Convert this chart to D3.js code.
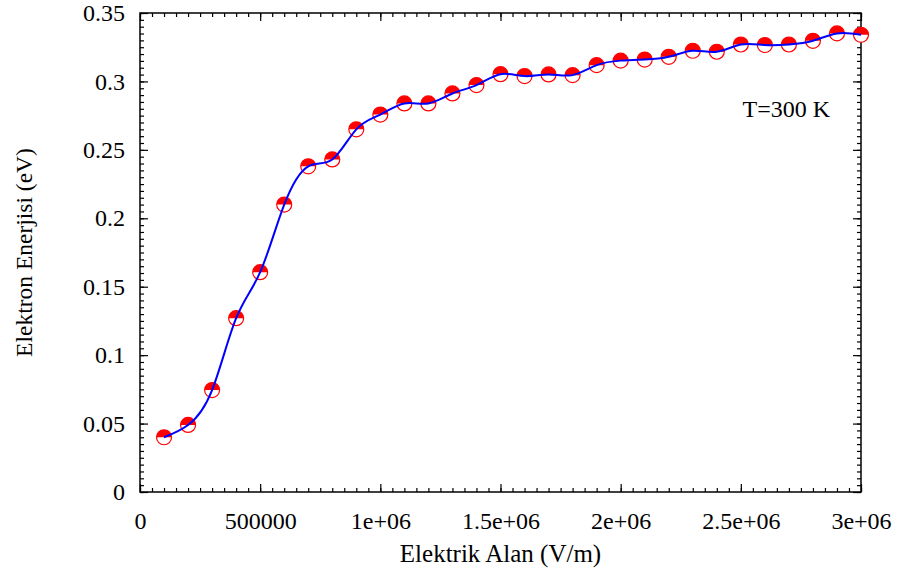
<!DOCTYPE html>
<html>
<head>
<meta charset="utf-8">
<script src="https://cdn.jsdelivr.net/npm/d3@7"></script>
<style>
  body { margin: 0; background: #fff; }
  text { font-family: "Liberation Serif", "Times New Roman", serif; }
</style>
</head>
<body>
<div id="chart"></div>
<script>
// field values (V/m) and electron energy (eV)
var field = [100000, 200000, 300000, 400000, 500000, 600000, 700000, 800000, 900000, 1000000,
             1100000, 1200000, 1300000, 1400000, 1500000, 1600000, 1700000, 1800000, 1900000, 2000000,
             2100000, 2200000, 2300000, 2400000, 2500000, 2600000, 2700000, 2800000, 2900000, 3000000];
var energy = [0.040, 0.049, 0.0745, 0.127, 0.1606, 0.210, 0.238, 0.243, 0.265, 0.2758,
              0.2839, 0.2839, 0.2912, 0.2973, 0.3053, 0.3039, 0.3051, 0.3046, 0.3119, 0.3152,
              0.316, 0.318, 0.3224, 0.3217, 0.327, 0.3266, 0.327, 0.3297, 0.3351, 0.3341];
var xTicks = [0, 500000, 1000000, 1500000, 2000000, 2500000, 3000000];
var xTickLabels = ["0", "500000", "1e+06", "1.5e+06", "2e+06", "2.5e+06", "3e+06"];
var yTicks = [0, 0.05, 0.1, 0.15, 0.2, 0.25, 0.3, 0.35];
var yTickLabels = ["0", "0.05", "0.1", "0.15", "0.2", "0.25", "0.3", "0.35"];

var W = 902, H = 571;
var margin = {top: 13, right: 41, bottom: 79, left: 140},
    width = W - margin.left - margin.right,
    height = H - margin.top - margin.bottom;

var svg = d3.select("#chart").append("svg")
    .attr("width", W)
    .attr("height", H)
  .append("g")
    .attr("transform", "translate(" + margin.left + "," + margin.top + ")");

var x = d3.scaleLinear().domain([0, 3000000]).range([0, width]);
var y = d3.scaleLinear().domain([0, 0.35]).range([height, 0]);

var minorX = d3.range(0, 3000001, 50000);
var minorY = d3.range(0, 0.3501, 0.005);

function styleAxis(g) {
  g.select(".domain").remove();
  g.selectAll("line").attr("stroke", "#000").attr("stroke-width", 1.2);
  g.selectAll("text").attr("fill", "#000").style("font-size", "24px");
}

// minor ticks, all four sides, pointing inward
svg.append("g").attr("transform", "translate(0," + height + ")")
  .call(d3.axisBottom(x).tickValues(minorX).tickSize(-4).tickFormat(""))
  .call(styleAxis);
svg.append("g")
  .call(d3.axisTop(x).tickValues(minorX).tickSize(-4).tickFormat(""))
  .call(styleAxis);
svg.append("g")
  .call(d3.axisLeft(y).tickValues(minorY).tickSize(-4).tickFormat(""))
  .call(styleAxis);
svg.append("g").attr("transform", "translate(" + width + ",0)")
  .call(d3.axisRight(y).tickValues(minorY).tickSize(-4).tickFormat(""))
  .call(styleAxis);

// major ticks
svg.append("g").attr("transform", "translate(0," + height + ")")
  .call(d3.axisBottom(x).tickValues(xTicks).tickSize(-8).tickPadding(20)
    .tickFormat((d, i) => xTickLabels[i]))
  .call(styleAxis);
svg.append("g")
  .call(d3.axisTop(x).tickValues(xTicks).tickSize(-8).tickFormat(""))
  .call(styleAxis);
svg.append("g")
  .call(d3.axisLeft(y).tickValues(yTicks).tickSize(-8).tickPadding(15)
    .tickFormat((d, i) => yTickLabels[i]))
  .call(styleAxis);
svg.append("g").attr("transform", "translate(" + width + ",0)")
  .call(d3.axisRight(y).tickValues(yTicks).tickSize(-8).tickFormat(""))
  .call(styleAxis);

// frame
svg.append("rect")
  .attr("width", width)
  .attr("height", height)
  .attr("fill", "none")
  .attr("stroke", "#000")
  .attr("stroke-width", 1.5);

var data = field.map((d, i) => ({x: d, y: energy[i]}));

// markers: open red circle with top half filled
var r = 7.5;
var pts = svg.append("g").selectAll("g")
  .data(data)
  .enter().append("g")
    .attr("transform", d => "translate(" + x(d.x) + "," + y(d.y) + ")");
pts.append("circle")
  .attr("r", r)
  .attr("fill", "#fff")
  .attr("stroke", "#ff0000")
  .attr("stroke-width", 1.2);
pts.append("path")
  .attr("d", "M" + (-r) + ",0 A" + r + "," + r + " 0 0 1 " + r + ",0 Z")
  .attr("fill", "#ff0000");

// smooth spline through the points
svg.append("path")
  .datum(data)
  .attr("fill", "none")
  .attr("stroke", "#0000ff")
  .attr("stroke-width", 2)
  .attr("d", d3.line()
    .x(d => x(d.x))
    .y(d => y(d.y))
    .curve(d3.curveNatural)
  );

// labels
svg.append("text")
  .attr("x", width / 2)
  .attr("y", height + 70)
  .attr("text-anchor", "middle")
  .style("font-size", "25px")
  .text("Elektrik Alan (V/m)");

svg.append("text")
  .attr("transform", "translate(" + (-108) + "," + (height / 2) + ") rotate(-90)")
  .attr("text-anchor", "middle")
  .style("font-size", "23.5px")
  .text("Elektron Enerjisi (eV)");

svg.append("text")
  .attr("x", 690)
  .attr("y", 104)
  .attr("text-anchor", "end")
  .style("font-size", "24px")
  .text("T=300 K");
</script>
</body>
</html>
